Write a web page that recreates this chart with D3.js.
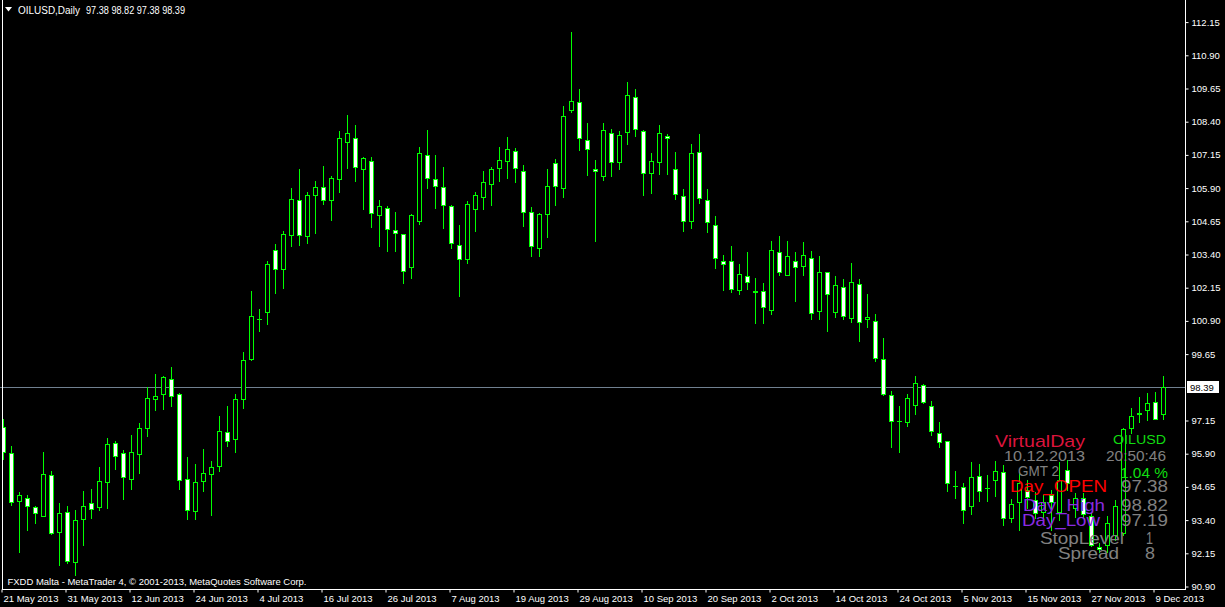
<!DOCTYPE html>
<html>
<head>
<meta charset="utf-8">
<script src="https://cdn.jsdelivr.net/npm/d3@7"></script>
<style>
  html, body { margin: 0; padding: 0; background: #000; overflow: hidden; }
  svg { display: block; }
  text { font-family: "Liberation Sans", Arial, sans-serif; }
</style>
</head>
<body>
<svg id="chart" width="1225" height="607"></svg>
<script>
// OILUSD daily bars, 21 May 2013 .. 10 Dec 2013
const open = [
  96.87, 95.90, 94.11, 94.20, 93.86, 93.55, 95.07, 92.94, 93.67, 91.81,
  93.43, 94.01, 93.89, 94.83, 96.27, 95.90, 94.94, 95.88, 96.84, 97.93,
  98.12, 98.68, 98.12, 94.92, 93.71, 94.84, 95.11, 95.41, 96.69, 96.42,
  97.93, 99.46, 100.97, 101.23, 103.54, 102.82, 104.10, 105.42, 104.07, 105.61,
  105.91, 105.42, 106.21, 107.61, 107.76, 106.59, 106.89, 104.86, 105.12, 104.29,
  104.14, 102.90, 104.63, 107.12, 106.21, 105.91, 105.20, 103.73, 103.20, 105.08,
  105.56, 106.02, 106.63, 106.89, 107.27, 106.51, 104.97, 103.61, 104.89, 106.81,
  105.87, 108.81, 109.11, 107.68, 106.59, 106.35, 107.94, 106.87, 107.98, 109.30,
  108.02, 106.44, 106.85, 107.83, 106.59, 105.57, 104.63, 107.23, 105.42, 104.48,
  103.13, 103.13, 102.03, 102.59, 101.99, 102.00, 101.30, 103.46, 102.62, 103.13,
  102.94, 103.24, 101.24, 102.71, 101.20, 102.15, 100.98, 102.26, 100.94, 100.87,
  99.44, 98.08, 97.13, 97.09, 97.70, 98.45, 97.67, 96.65, 96.35, 94.66,
  94.62, 93.90, 95.03, 94.59, 94.88, 95.18, 93.45, 94.07, 94.51, 94.14,
  93.70, 94.33, 93.70, 95.27, 93.82, 94.22, 93.55, 92.38, 92.44, 92.82,
  92.88, 96.86, 97.39, 97.53, 97.82, 97.38
];
const high = [
  97.18, 96.17, 94.44, 94.33, 93.91, 95.94, 95.23, 94.01, 93.91, 93.76,
  94.48, 94.55, 95.38, 96.47, 96.36, 96.02, 96.59, 97.04, 98.38, 98.88,
  98.81, 99.13, 98.17, 95.76, 95.49, 96.06, 95.61, 97.30, 97.68, 98.13,
  99.71, 102.01, 101.33, 103.14, 103.78, 104.27, 105.89, 106.59, 105.73, 106.15,
  106.71, 106.33, 108.02, 108.63, 108.26, 107.04, 107.04, 105.43, 105.22, 104.98,
  104.16, 104.89, 107.42, 108.07, 107.12, 106.66, 105.23, 104.49, 105.38, 105.72,
  106.51, 106.66, 107.42, 107.79, 107.38, 106.74, 105.16, 104.93, 106.59, 106.97,
  108.96, 111.76, 109.60, 108.32, 106.93, 108.33, 108.09, 108.02, 109.88, 109.60,
  108.06, 107.20, 108.25, 107.91, 107.24, 105.84, 107.53, 107.91, 105.84, 104.82,
  103.35, 103.69, 103.01, 103.46, 102.50, 102.31, 103.89, 104.08, 103.89, 103.47,
  103.85, 103.51, 103.32, 102.73, 102.57, 102.45, 103.06, 102.45, 101.88, 101.13,
  100.23, 98.23, 97.68, 98.12, 98.81, 98.49, 97.85, 97.06, 96.37, 95.22,
  94.77, 95.56, 95.48, 95.07, 95.60, 95.44, 94.18, 95.20, 94.89, 94.45,
  94.33, 94.51, 95.58, 95.64, 94.40, 94.40, 93.65, 92.52, 93.54, 94.14,
  96.85, 97.61, 98.03, 98.16, 98.19, 98.82
];
const low = [
  95.67, 93.95, 92.19, 93.01, 93.26, 93.52, 92.85, 91.70, 91.78, 91.31,
  92.44, 93.45, 93.76, 93.85, 95.31, 94.19, 94.55, 95.17, 96.55, 97.53,
  97.58, 97.69, 94.56, 93.41, 93.41, 94.49, 93.58, 95.24, 96.18, 95.96,
  97.61, 99.42, 100.51, 100.75, 101.94, 102.13, 103.71, 103.75, 103.83, 104.20,
  105.29, 104.69, 105.75, 106.65, 106.16, 105.11, 104.43, 103.71, 103.52, 103.52,
  102.32, 102.51, 104.54, 105.90, 105.14, 104.39, 103.64, 101.83, 103.07, 104.28,
  105.11, 105.26, 106.16, 106.27, 106.12, 104.47, 103.34, 103.34, 104.03, 105.26,
  105.56, 108.73, 107.33, 106.36, 103.90, 106.19, 106.35, 106.61, 107.55, 107.85,
  105.63, 105.71, 106.41, 106.42, 105.47, 104.28, 104.39, 105.33, 104.24, 102.88,
  102.06, 101.96, 101.91, 102.08, 100.81, 100.81, 101.15, 102.60, 102.60, 101.64,
  102.62, 100.96, 100.96, 100.51, 101.04, 100.96, 100.85, 100.14, 100.66, 99.36,
  98.10, 96.12, 95.93, 96.94, 97.36, 97.78, 96.57, 96.12, 94.47, 94.20,
  93.26, 93.60, 94.09, 94.09, 94.28, 93.19, 93.32, 93.01, 93.84, 93.45,
  93.45, 93.01, 93.38, 94.51, 93.51, 93.50, 92.40, 92.19, 92.19, 92.63,
  92.82, 96.65, 97.09, 97.15, 97.17, 97.19
];
const close = [
  95.93, 94.07, 94.33, 93.92, 93.66, 95.11, 92.88, 93.64, 91.85, 93.37,
  93.90, 93.81, 94.84, 96.23, 95.81, 95.02, 95.93, 96.84, 97.97, 98.06,
  98.76, 98.04, 94.88, 93.75, 94.80, 95.14, 95.37, 96.72, 96.35, 97.93,
  99.40, 101.05, 100.95, 103.01, 102.82, 104.14, 105.46, 104.10, 105.61, 105.91,
  105.42, 106.25, 107.76, 107.94, 106.66, 107.00, 104.93, 105.20, 104.33, 104.18,
  102.75, 104.86, 107.19, 106.25, 105.95, 105.23, 103.80, 103.20, 105.27, 105.61,
  106.10, 106.59, 106.93, 107.34, 106.63, 104.97, 103.69, 104.89, 105.95, 105.95,
  108.58, 109.15, 107.76, 107.34, 106.51, 108.06, 106.85, 107.87, 109.37, 108.09,
  106.44, 106.89, 107.94, 107.76, 105.65, 104.63, 107.19, 105.50, 104.59, 103.24,
  103.01, 102.07, 102.64, 102.33, 101.98, 101.39, 103.54, 102.71, 103.31, 102.90,
  103.35, 101.17, 102.71, 101.88, 102.22, 101.05, 102.33, 100.83, 101.02, 99.47,
  98.12, 97.10, 97.12, 97.97, 98.53, 97.82, 96.72, 96.31, 94.77, 94.65,
  93.75, 94.99, 94.47, 94.58, 95.22, 93.45, 93.98, 94.77, 94.25, 93.64,
  94.07, 94.07, 94.89, 94.77, 94.21, 93.61, 92.44, 92.28, 93.28, 93.91,
  96.80, 97.30, 97.40, 97.78, 97.19, 98.39
];

const priceTicks = [112.15, 110.90, 109.65, 108.40, 107.15, 105.90, 104.65, 103.40,
  102.15, 100.90, 99.65, 97.15, 95.90, 94.65, 93.40, 92.15, 90.90];
const dateTickBars = [0, 8, 16, 24, 32, 40, 48, 56, 64, 72, 80, 88, 96, 104, 112, 120, 128, 136, 144];
const dateTickLabels = ["21 May 2013", "31 May 2013", "12 Jun 2013", "24 Jun 2013", "4 Jul 2013",
  "16 Jul 2013", "26 Jul 2013", "7 Aug 2013", "19 Aug 2013", "29 Aug 2013", "10 Sep 2013",
  "20 Sep 2013", "2 Oct 2013", "14 Oct 2013", "24 Oct 2013", "5 Nov 2013", "15 Nov 2013",
  "27 Nov 2013", "9 Dec 2013"];

const headerName = "OILUSD,Daily";
const headerQuote = "97.38 98.82 97.38 98.39";
const lastPrice = 98.39;
const copyright = "FXDD Malta - MetaTrader 4, \u00a9 2001-2013, MetaQuotes Software Corp.";

// info panel written on the chart by an indicator
const panelTexts = ["VirtualDay", "OILUSD", "10.12.2013", "20:50:46", "GMT 2", "1.04 %",
  "Day_OPEN", "97.38", "Day_High", "98.82", "Day_Low", "97.19", "StopLevel", "1", "Spread", "8"];

const W = 1225, H = 607;
const axisX = 1185, axisY = 589;
const lime = "#00ff00", grey = "#808080", violet = "#8a2be2";

const svg = d3.select("#chart");
svg.append("rect").attr("width", W).attr("height", H).attr("fill", "#000");

const x = d3.scaleLinear().domain([0, open.length - 1]).range([3, 3 + 8 * (open.length - 1)]);
const y = d3.scaleLinear().domain([90.90, 112.15]).range([586, 21.6]);

svg.append("defs").append("clipPath").attr("id", "plot")
  .append("rect").attr("x", 2).attr("y", 0).attr("width", axisX - 2).attr("height", axisY);

// current price line
svg.append("line")
  .attr("x1", 0).attr("x2", axisX)
  .attr("y1", Math.round(y(lastPrice)) + 0.5).attr("y2", Math.round(y(lastPrice)) + 0.5)
  .attr("stroke", "#708090").attr("stroke-width", 1);

// candles
const bars = d3.range(open.length);
const plot = svg.append("g").attr("clip-path", "url(#plot)");

plot.append("g").selectAll("line")
  .data(bars)
  .join("line")
  .attr("x1", i => x(i) + 0.5).attr("x2", i => x(i) + 0.5)
  .attr("y1", i => Math.round(y(high[i])))
  .attr("y2", i => Math.round(y(low[i])) + 1)
  .attr("stroke", lime).attr("stroke-width", 1);

const bodyTop = i => Math.round(y(Math.max(open[i], close[i]))) + 0.5;
const bodyBot = i => Math.round(y(Math.min(open[i], close[i]))) + 0.5;

plot.append("g").selectAll("rect")
  .data(bars.filter(i => bodyBot(i) - bodyTop(i) >= 1))
  .join("rect")
  .attr("x", i => x(i) - 1.5)
  .attr("y", bodyTop)
  .attr("width", 4)
  .attr("height", i => bodyBot(i) - bodyTop(i))
  .attr("fill", i => close[i] < open[i] ? "#fff" : "#000")
  .attr("stroke", lime).attr("stroke-width", 1);

plot.append("g").selectAll("line")
  .data(bars.filter(i => bodyBot(i) - bodyTop(i) < 1))
  .join("line")
  .attr("x1", i => x(i) - 2).attr("x2", i => x(i) + 3)
  .attr("y1", bodyTop).attr("y2", bodyTop)
  .attr("stroke", lime).attr("stroke-width", 1);

// indicator panel, on top of the bars
const panelLayout = [
  { x: 995, y: 447, w: 90, s: 17, c: "#dc143c" },
  { x: 1113, y: 443.5, w: 53, s: 12.5, c: "#11dd11" },
  { x: 1004, y: 461, w: 81, s: 14, c: grey },
  { x: 1106, y: 461, w: 60, s: 14, c: grey },
  { x: 1018, y: 475.5, w: 41, s: 14, c: grey },
  { x: 1120, y: 477.5, w: 48, s: 15, c: "#11dd11" },
  { x: 1010, y: 492, w: 97, s: 16.5, c: "#ff0000" },
  { x: 1121, y: 492, w: 47, s: 16.5, c: grey },
  { x: 1023, y: 510.5, w: 82, s: 16.5, c: violet },
  { x: 1121, y: 510.5, w: 47, s: 16.5, c: grey },
  { x: 1022, y: 526, w: 78, s: 16.5, c: violet },
  { x: 1121, y: 526, w: 47, s: 16.5, c: grey },
  { x: 1040, y: 544, w: 84, s: 16.5, c: grey },
  { x: 1146, y: 544, w: 7, s: 16.5, c: grey },
  { x: 1058, y: 558.5, w: 61, s: 16.5, c: grey },
  { x: 1145, y: 558.5, w: 10, s: 16.5, c: grey }
];
svg.append("g").selectAll("text")
  .data(panelTexts)
  .join("text")
  .attr("x", (d, i) => panelLayout[i].x)
  .attr("y", (d, i) => panelLayout[i].y)
  .attr("textLength", (d, i) => panelLayout[i].w)
  .attr("lengthAdjust", "spacingAndGlyphs")
  .attr("font-size", (d, i) => panelLayout[i].s)
  .attr("fill", (d, i) => panelLayout[i].c)
  .text(d => d);

// frame
svg.append("line").attr("x1", 2.5).attr("x2", 2.5).attr("y1", 0).attr("y2", axisY)
  .attr("stroke", "#fff");
svg.append("line").attr("x1", axisX + 0.5).attr("x2", axisX + 0.5).attr("y1", 0).attr("y2", axisY + 1)
  .attr("stroke", "#fff");
svg.append("line").attr("x1", 2).attr("x2", axisX + 1).attr("y1", axisY + 0.5).attr("y2", axisY + 0.5)
  .attr("stroke", "#fff");

// price axis
const yAxis = svg.append("g")
  .attr("transform", `translate(${axisX + 0.5},0.5)`)
  .call(d3.axisRight(y).tickValues(priceTicks).tickSize(3).tickPadding(3).tickFormat(d3.format(".2f")));
yAxis.select(".domain").remove();
yAxis.selectAll("line").attr("stroke", "#fff");
yAxis.selectAll("text").attr("fill", "#fff").attr("font-size", 9.5)
  .attr("font-family", "Liberation Sans, Arial, sans-serif");

// last price label
const ly = Math.round(y(lastPrice));
svg.append("rect").attr("x", axisX + 2).attr("y", ly - 6).attr("width", 32).attr("height", 12)
  .attr("fill", "#fff");
svg.append("text").attr("x", axisX + 5).attr("y", ly + 4)
  .attr("font-size", 9.5).attr("fill", "#000").text(d3.format(".2f")(lastPrice));

// time axis
const xAxis = svg.append("g")
  .attr("transform", `translate(-1.5,${axisY + 0.5})`)
  .call(d3.axisBottom(x).tickValues(dateTickBars).tickSize(3).tickPadding(3)
    .tickFormat((d, i) => dateTickLabels[i]));
xAxis.select(".domain").remove();
xAxis.selectAll("line").attr("stroke", "#fff");
xAxis.selectAll("text").attr("fill", "#fff").attr("font-size", 9.5)
  .attr("text-anchor", "start").attr("dx", 1.5)
  .attr("font-family", "Liberation Sans, Arial, sans-serif");

// header
svg.append("path").attr("d", "M5,7 L12,7 L8.5,11.5 Z").attr("fill", "#fff");
svg.append("text").attr("x", 18).attr("y", 13.5).attr("font-size", 10)
  .attr("textLength", 62).attr("lengthAdjust", "spacingAndGlyphs")
  .attr("fill", "#fff").text(headerName);
svg.append("text").attr("x", 86).attr("y", 13.5).attr("font-size", 10)
  .attr("textLength", 99).attr("lengthAdjust", "spacingAndGlyphs")
  .attr("fill", "#fff").text(headerQuote);

// copyright
svg.append("text").attr("x", 7.5).attr("y", 584.5).attr("font-size", 9.5)
  .attr("textLength", 299).attr("lengthAdjust", "spacingAndGlyphs")
  .attr("fill", "#fff").text(copyright);
</script>
</body>
</html>
